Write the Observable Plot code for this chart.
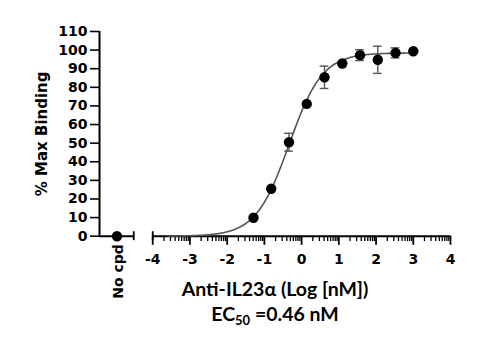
<!DOCTYPE html>
<html>
<head>
<meta charset="utf-8">
<script src="https://cdn.jsdelivr.net/npm/d3@7"></script>
<script src="https://cdn.jsdelivr.net/npm/@observablehq/plot@0.6"></script>
<style>
  html, body { margin: 0; padding: 0; background: #fff; }
</style>
</head>
<body>
<div id="chart"></div>
<script>
// ---- data ----
const logConc = [-1.293, -0.816, -0.339, 0.138, 0.615, 1.092, 1.569, 2.046, 2.523, 3.0];
const binding = [9.9, 25.5, 50.5, 71.1, 85.4, 92.8, 97.3, 94.8, 98.5, 99.4];
const sem     = [0, 0, 4.8, 0, 6.0, 0, 2.9, 7.3, 2.7, 0];
const noCpdLabel = "No cpd";
const noCpdValue = 0;

// 4-parameter logistic fit (EC50 = 0.46 nM)
const fitBottom = 0;
const fitTop = 98.5;
const fitLogEC50 = Math.log10(0.46);
const fitHill = 0.97;
const curveRange = [-3.6, 3.03];

const xTicks = [-4, -3, -2, -1, 0, 1, 2, 3, 4];
const yTicks = [0, 10, 20, 30, 40, 50, 60, 70, 80, 90, 100, 110];
const xTitle = "Anti-IL23α (Log [nM])";
const ecTitle = "EC50 =0.46 nM";

// ---- layout ----
const xDomain = [-5.43, 4.0];
const noCpdX = -4.96;
const leftSegEnd = -4.51;

const points = logConc.map((x, i) => ({x, y: binding[i], e: sem[i]}));
const bars = points.filter(d => d.e > 0);
const minorTicks = [];
for (let k = -4; k < 4; k++) for (let m = 2; m <= 9; m++) minorTicks.push(k + Math.log10(m));

const curve = [];
for (let x = curveRange[0]; x <= curveRange[1] + 1e-9; x += 0.02) {
  curve.push({x, y: fitBottom + (fitTop - fitBottom) / (1 + Math.pow(10, (fitLogEC50 - x) * fitHill))});
}

const tickFont = "DejaVu Sans";
const titleFont = "Lato";
const capHalf = 0.117;

const plot = Plot.plot({
  width: 487,
  height: 354,
  marginLeft: 99,
  marginRight: 37,
  marginTop: 31,
  marginBottom: 118.3,
  style: {fontFamily: tickFont, fontWeight: "bold", fontSize: "14px", background: "#fff", color: "#000"},
  x: {domain: xDomain, axis: null},
  y: {domain: [0, 110], axis: null},
  marks: [
    // y axis
    Plot.axisY({ticks: yTicks, tickSize: 9, tickPadding: 3, label: null, strokeWidth: 1.6, fontSize: 14, fontWeight: "bold"}),
    Plot.ruleX([xDomain[0]], {y1: 0, y2: 110, strokeWidth: 2, stroke: "black"}),
    // x axis segments
    Plot.ruleY([0], {x1: xDomain[0], x2: leftSegEnd, strokeWidth: 2, stroke: "black"}),
    Plot.ruleY([0], {x1: -4, x2: 4, strokeWidth: 2, stroke: "black"}),
    Plot.ruleX([leftSegEnd, -4], {y1: -2.4, y2: 2.4, strokeWidth: 1.8, stroke: "black"}),
    Plot.ruleX(minorTicks, {y1: 0, y2: -2.9, strokeWidth: 1.3, stroke: "black"}),
    Plot.ruleX(xTicks, {y1: 0, y2: -4.9, strokeWidth: 1.8, stroke: "black"}),
    Plot.ruleX([noCpdX], {y1: 0, y2: -2.8, strokeWidth: 1.8, stroke: "black"}),
    Plot.text(xTicks, {x: d => d, y: 0, dy: 23, text: d => String(d), fontSize: 14, fontWeight: "bold"}),
    Plot.text([noCpdLabel], {x: noCpdX, y: 0, dx: 1.5, dy: 8, rotate: -90, textAnchor: "end", fontSize: 14, fontWeight: "bold"}),
    // y axis title
    Plot.text(["% Max Binding"], {x: xDomain[0], y: 55, dx: -57, rotate: -90, fontSize: 15, fontWeight: "bold"}),
    // fitted curve
    Plot.line(curve, {x: "x", y: "y", stroke: "#555", strokeWidth: 1.6}),
    // error bars
    Plot.ruleX(bars, {x: "x", y1: d => d.y - d.e, y2: d => d.y + d.e, stroke: "#555", strokeWidth: 1.4}),
    Plot.ruleY(bars, {y: d => d.y + d.e, x1: d => d.x - capHalf, x2: d => d.x + capHalf, stroke: "#555", strokeWidth: 1.4}),
    Plot.ruleY(bars, {y: d => d.y - d.e, x1: d => d.x - capHalf, x2: d => d.x + capHalf, stroke: "#555", strokeWidth: 1.4}),
    // points
    Plot.dot(points, {x: "x", y: "y", r: 5.2, fill: "black", stroke: "none"}),
    Plot.dot([noCpdValue], {x: noCpdX, y: d => d, r: 5.2, fill: "black", stroke: "none"}),
    // titles
    Plot.text([xTitle], {frameAnchor: "bottom", dy: 60, fontFamily: titleFont, fontSize: 19.5, fontWeight: "bold", className: "xtitle"}),
    Plot.text([ecTitle], {frameAnchor: "bottom", dy: 85, fontFamily: titleFont, fontSize: 19.5, fontWeight: "bold", className: "ectitle"})
  ]
});

document.getElementById("chart").appendChild(plot);

// render subscript "50" in EC50
const ec = plot.querySelector(".ectitle text");
if (ec) {
  ec.textContent = "";
  const ns = "http://www.w3.org/2000/svg";
  const t1 = document.createElementNS(ns, "tspan"); t1.textContent = "EC";
  const t2 = document.createElementNS(ns, "tspan"); t2.textContent = "50";
  t2.setAttribute("dy", "4"); t2.setAttribute("font-size", "13");
  const t3 = document.createElementNS(ns, "tspan"); t3.textContent = " =0.46 nM";
  t3.setAttribute("dy", "-4");
  ec.append(t1, t2, t3);
}
</script>
</body>
</html>
